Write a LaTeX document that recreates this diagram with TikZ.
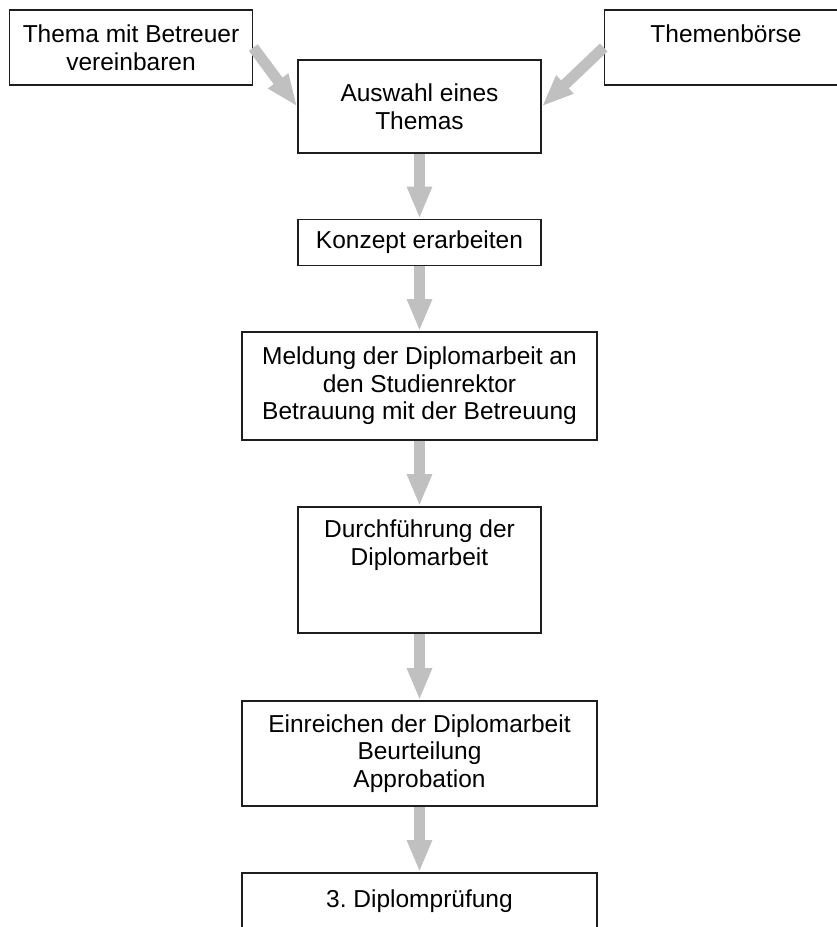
\documentclass[tikz,border=0pt]{standalone}
\usepackage{fontspec}
\setmainfont{Liberation Sans}
\usepackage{xcolor}
\usepackage{tikz}
\usetikzlibrary{shapes,arrows.meta}
\usetikzlibrary{positioning}
\definecolor{arrowgray}{RGB}{192,192,192}
\definecolor{boxline}{RGB}{30,30,30}
\tikzstyle{block} = [rectangle, draw=boxline, line width=1.6pt, align=center,
    inner sep=0pt, minimum width=243pt, font=\fontsize{24.5}{27.5}\selectfont]
\tikzstyle{wideblock} = [block, minimum width=355pt]
\tikzstyle{line} = [draw=arrowgray, line width=11pt,
    -{Triangle[width=23pt,length=32pt]}]

\begin{document}
\begin{tikzpicture}[x=1pt, y=-1pt]
  \useasboundingbox (0,0) rectangle (837,927);
  \clip (0,0) rectangle (837,927);
  % Place nodes
  \node [block, minimum height=75pt] at (131,47.5) (thema) {Thema mit Betreuer\\vereinbaren};
  % runs off the right edge of the page
  \node [block, minimum height=75pt, minimum width=300pt] at (754.5,47.5) (boerse)
    {Themenbörse\hspace*{57pt}\\\mbox{}};
  \node [block, minimum height=93pt] at (419.5,106.5) (auswahl) {Auswahl eines\\Themas};
  \node [block, minimum height=46pt, below of=auswahl, node distance=136pt] (konzept) {Konzept erarbeiten};
  \node [wideblock, minimum height=108pt, below of=konzept, node distance=143.5pt] (meldung)
    {Meldung der Diplomarbeit an\\den Studienrektor\\Betrauung mit der Betreuung};
  \node [block, minimum height=126pt, below of=meldung, node distance=184pt] (durchf)
    {Durchführung der\\Diplomarbeit\\\mbox{}\\\mbox{}};
  \node [wideblock, minimum height=105pt, below of=durchf, node distance=183.5pt] (einreichen)
    {Einreichen der Diplomarbeit\\Beurteilung\\Approbation};
  \node [wideblock, minimum height=78pt, below of=einreichen, node distance=158.5pt] (pruefung)
    {3.\ Diplomprüfung\\\mbox{}};

  % Draw edges
  \path [line] (thema.east) -- (auswahl.west);
  \path [line] (boerse.west) -- (auswahl.east);
  \path [line] (auswahl) -- (konzept);
  \path [line] (konzept) -- (meldung);
  \path [line] (meldung) -- (durchf);
  \path [line] (durchf) -- (einreichen);
  \path [line] (einreichen) -- (pruefung);
\end{tikzpicture}
\end{document}
